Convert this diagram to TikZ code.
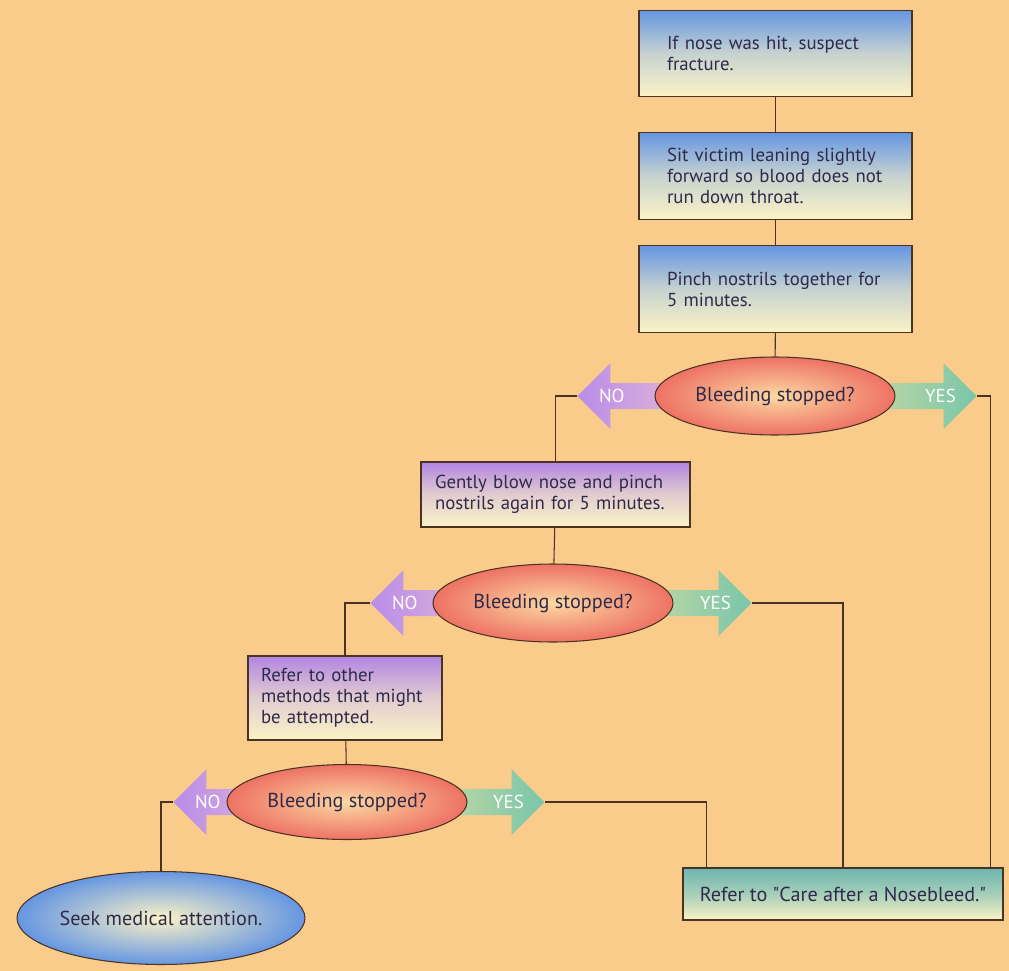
\documentclass[tikz,border=0pt]{standalone}
\usepackage{fontspec}
\setmainfont{PT Sans}
\usetikzlibrary{shapes.geometric,shapes.arrows,positioning,calc}

\definecolor{paper}{HTML}{F9CC8C}
\definecolor{frame}{HTML}{4A3323}
\definecolor{ink}{HTML}{2F2A4A}
\definecolor{cream}{HTML}{FBF3C6}
\definecolor{stepblue}{HTML}{6596E2}
\definecolor{retrypurple}{HTML}{B285E2}
\definecolor{doneteal}{HTML}{6DB6B0}
\definecolor{askred}{HTML}{EE7264}
\definecolor{askcore}{HTML}{FBD9A2}
\definecolor{nopurple}{HTML}{B98CE8}
\definecolor{nolight}{HTML}{E2B6DA}
\definecolor{yesgreen}{HTML}{78C6AA}
\definecolor{yeslight}{HTML}{C4D8A4}

\begin{document}
\begin{tikzpicture}[x=0.02cm,y=-0.02cm,
  font=\fontsize{10.7}{12}\selectfont, text=ink,
  stepbox/.style={draw=frame, line width=0.8pt, top color=stepblue, bottom color=cream,
                  middle color=stepblue!35!cream, minimum width=5.46cm, minimum height=1.73cm,
                  inner xsep=0.56cm, text width=4.34cm, align=left},
  retrybox/.style={draw=frame, line width=0.8pt, top color=retrypurple, bottom color=cream,
                   middle color=retrypurple!35!cream, align=left},
  endbox/.style={draw=frame, line width=0.8pt, top color=doneteal, bottom color=cream,
                 middle color=doneteal!60!cream, minimum width=6.4cm, minimum height=1.04cm},
  ask/.style={ellipse, draw=frame, line width=0.6pt, inner sep=0pt, shading=radial,
              inner color=askcore, outer color=askred, minimum width=4.8cm, minimum height=1.56cm,
              font=\fontsize{11.5}{13}\selectfont},
  noarrow/.style={single arrow, shape border rotate=180, anchor=tip, inner sep=0pt,
                  single arrow head extend=0.22cm, minimum width=1.32cm, minimum height=2.2cm,
                  left color=nopurple, right color=nolight, text=white},
  yesarrow/.style={single arrow, anchor=tip, inner sep=0pt,
                   single arrow head extend=0.22cm, minimum width=1.32cm, minimum height=2.2cm,
                   right color=yesgreen, left color=yeslight, text=white},
  link/.style={draw=frame, line width=0.6pt}
]
\fill[paper] (0,0) rectangle (1009,971);

% first aid steps
\node[stepbox] (hit)   at (775.5, 53.5) {If nose was hit, suspect\\fracture.};
\node[stepbox] (lean)  at (775.5,176)   {Sit victim leaning slightly\\forward so blood does not\\run down throat.};
\node[stepbox] (pinch) at (775.5,289)   {Pinch nostrils together for\\5 minutes.};

% yes/no arrows go first so the questions sit on top
\node[noarrow]  (no1)  at (577,396) {NO\hspace*{31pt}};
\node[yesarrow] (yes1) at (977,396) {\hspace*{29pt}YES};
\node[noarrow]  (no2)  at (370,603) {NO\hspace*{31pt}};
\node[yesarrow] (yes2) at (752,603) {\hspace*{29pt}YES};
\node[noarrow]  (no3)  at (173,802) {NO\hspace*{31pt}};
\node[yesarrow] (yes3) at (545,802) {\hspace*{29pt}YES};

\node[ask] (ask1) at (775,396) {Bleeding stopped?};
\node[ask] (ask2) at (553,603) {Bleeding stopped?};
\node[ask, minimum height=1.5cm] (ask3) at (347,802) {Bleeding stopped?};

\node[retrybox, minimum width=5.38cm, minimum height=1.3cm, inner xsep=0.28cm, text width=4.82cm]
  (blow) at (555.5,494.5) {Gently blow nose and pinch\\nostrils again for 5 minutes.};
\node[retrybox, minimum width=3.88cm, minimum height=1.68cm, inner xsep=0.26cm, text width=3.36cm]
  (other) at (345,698) {Refer to other\\methods that might\\be attempted.};

\node[endbox, font=\fontsize{11.5}{13}\selectfont] (care) at (843,894)
  {Refer to \textquotedbl Care after a Nosebleed.\textquotedbl};
\node[ask, inner color=cream, outer color=stepblue, minimum width=5.76cm, minimum height=1.86cm]
  (seek) at (161,918) {Seek medical attention.};

% connectors
\draw[link] (hit) -- (lean);
\draw[link] (lean) -- (pinch);
\draw[link] (pinch) -- (ask1);
\draw[link] (no1.tip) -| (blow.north);
\draw[link] (yes1.tip) -| ($(care.north east)+(-13,0)$);
\draw[link] (blow) -- (ask2);
\draw[link] (no2.tip) -| (other.north);
\draw[link] (yes2.tip) -| (care.north);
\draw[link] (other) -- (ask3);
\draw[link] (no3.tip) -| (seek.north);
\draw[link] (yes3.tip) -| ($(care.north west)+(24,0)$);
\end{tikzpicture}
\end{document}
